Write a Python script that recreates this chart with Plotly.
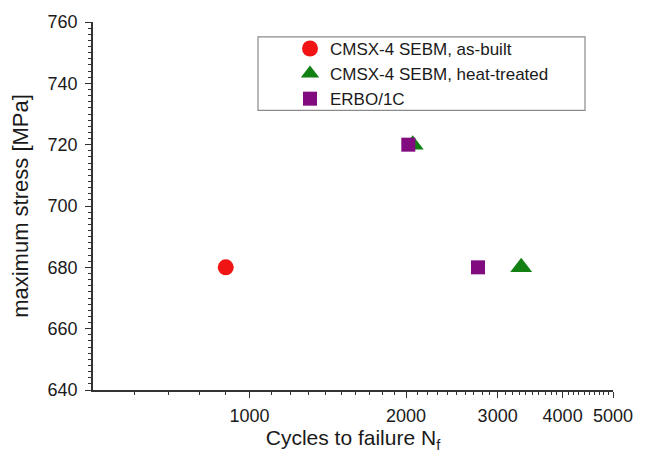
import numpy as np
import plotly.graph_objects as go

# Data
asbuilt_cycles = [900]
asbuilt_stress = [680]
heat_cycles = [2060, 3330]
heat_stress = [720, 680]
erbo_cycles = [2020, 2750]
erbo_stress = [720, 680]

series_names = ["CMSX-4 SEBM, as-built", "CMSX-4 SEBM, heat-treated", "ERBO/1C"]
x_tickvals = [1000, 2000, 3000, 4000, 5000]
x_ticktext = ["1000", "2000", "3000", "4000", "5000"]
x_minor = [v for v in range(600, 5000, 100) if v not in x_tickvals]

FONT = "Liberation Sans, Arial, sans-serif"
AX = "#333333"
TXT = "#1a1a1a"

fig = go.Figure()
fig.add_trace(go.Scatter(x=asbuilt_cycles, y=asbuilt_stress, mode="markers", name=series_names[0],
                         marker=dict(symbol="circle", size=16, color="#f01414")))
fig.add_trace(go.Scatter(x=heat_cycles, y=heat_stress, mode="markers", name=series_names[1],
                         marker=dict(symbol="triangle-up", size=19, color="#138013")))
fig.add_trace(go.Scatter(x=erbo_cycles, y=erbo_stress, mode="markers", name=series_names[2],
                         marker=dict(symbol="square", size=14, color="#800c80")))

xr = [np.log10(500), np.log10(5000)]
yr = [640, 760]

common_x = dict(type="log", range=xr, tickmode="array", tickvals=x_tickvals, ticktext=x_ticktext,
                showline=True, linecolor=AX, linewidth=1.5, showgrid=False, zeroline=False,
                tickcolor=AX, tickwidth=1.2, ticklen=6,
                minor=dict(tickmode="array", tickvals=x_minor, ticklen=3, tickcolor=AX, tickwidth=1, showgrid=False))
common_y = dict(range=yr, dtick=20, showline=True, linecolor=AX, linewidth=1.5, showgrid=False,
                zeroline=False, tickcolor=AX, tickwidth=1.2, ticklen=6,
                minor=dict(dtick=2, ticklen=3, tickcolor=AX, tickwidth=1, showgrid=False))

fig.update_layout(
    width=649, height=456,
    margin=dict(l=93, r=36, t=19, b=66),
    paper_bgcolor="white", plot_bgcolor="white",
    font=dict(family=FONT, size=18, color=TXT),
    xaxis=dict(**common_x, ticks="outside", side="bottom",
               minor_ticks="outside", ticklabelstandoff=3,
               tickfont=dict(size=18, color=TXT),
               title=dict(text="Cycles to failure N<sub>f</sub>", font=dict(size=21, color=TXT), standoff=3)),
    xaxis2=dict(**common_x, ticks="inside", minor_ticks="inside", side="top", overlaying="x",
                showticklabels=False),
    yaxis=dict(**common_y, ticks="outside", minor_ticks="outside", ticklabelstandoff=4,
               tickfont=dict(size=18, color=TXT),
               title=dict(text="maximum stress [MPa]", font=dict(size=22, color=TXT), standoff=13)),
    yaxis2=dict(**common_y, ticks="inside", minor_ticks="inside", side="right", overlaying="y",
                showticklabels=False),
    legend=dict(x=(290 - 93) / 520, y=(390 - 28) / 371, xanchor="left", yanchor="top",
                bgcolor="rgba(0,0,0,0)", borderwidth=0, font=dict(size=17, color=TXT),
                tracegroupgap=0),
    showlegend=True,
)

fig.add_shape(type="rect", xref="paper", yref="paper",
              x0=(258 - 93) / 520, x1=(585 - 93) / 520,
              y0=(390 - 108) / 371, y1=(390 - 34) / 371,
              line=dict(color="#8a8a8a", width=1.2), fillcolor="rgba(0,0,0,0)", layer="below")

fig.write_html("out.html")
